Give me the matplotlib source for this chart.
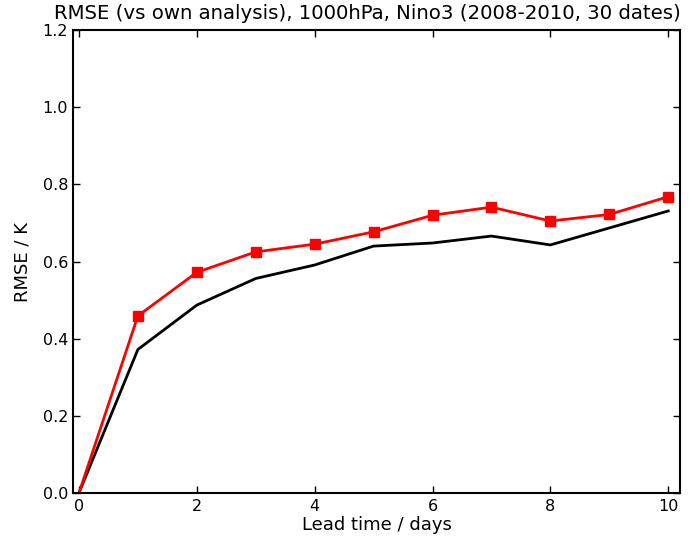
import matplotlib
matplotlib.use("Agg")
import matplotlib.pyplot as plt

days = [0, 1, 2, 3, 4, 5, 6, 7, 8, 9, 10]
rmse_red = [0.0, 0.459, 0.572, 0.625, 0.645, 0.677, 0.720, 0.741, 0.705, 0.722, 0.768]
rmse_black = [0.0, 0.372, 0.487, 0.556, 0.591, 0.640, 0.648, 0.666, 0.643, 0.687, 0.731]
yticks = [0.0, 0.2, 0.4, 0.6, 0.8, 1.0, 1.2]
xticks = [0, 2, 4, 6, 8, 10]

fig = plt.figure(figsize=(6.96, 5.37), dpi=100)
ax = fig.add_axes([0.105, 0.082, 0.872, 0.862])
ax.plot(days, rmse_black, color="black", lw=2)
ax.plot(days, rmse_red, color="red", lw=2, marker="s", markersize=7,
        markevery=list(range(1, len(days))))
ax.set_xlim(-0.1, 10.2)
ax.set_ylim(0, 1.2)
ax.set_xticks(xticks)
ax.set_yticks(yticks)
ax.set_yticklabels([f"{v:.1f}" for v in yticks])
ax.tick_params(direction="in", length=5, labelsize=11.5, width=1,
               top=True, right=True)
ax.tick_params(axis="x", pad=4)
for s in ax.spines.values():
    s.set_linewidth(1.5)
ax.set_xlabel("Lead time / days", fontsize=13, labelpad=2)
ax.set_ylabel("RMSE / K", fontsize=13, labelpad=8)
ax.set_title("RMSE (vs own analysis), 1000hPa, Nino3 (2008-2010, 30 dates)",
             fontsize=14.2, pad=8, loc="center", x=0.485)
fig.savefig("out.png", dpi=100)
